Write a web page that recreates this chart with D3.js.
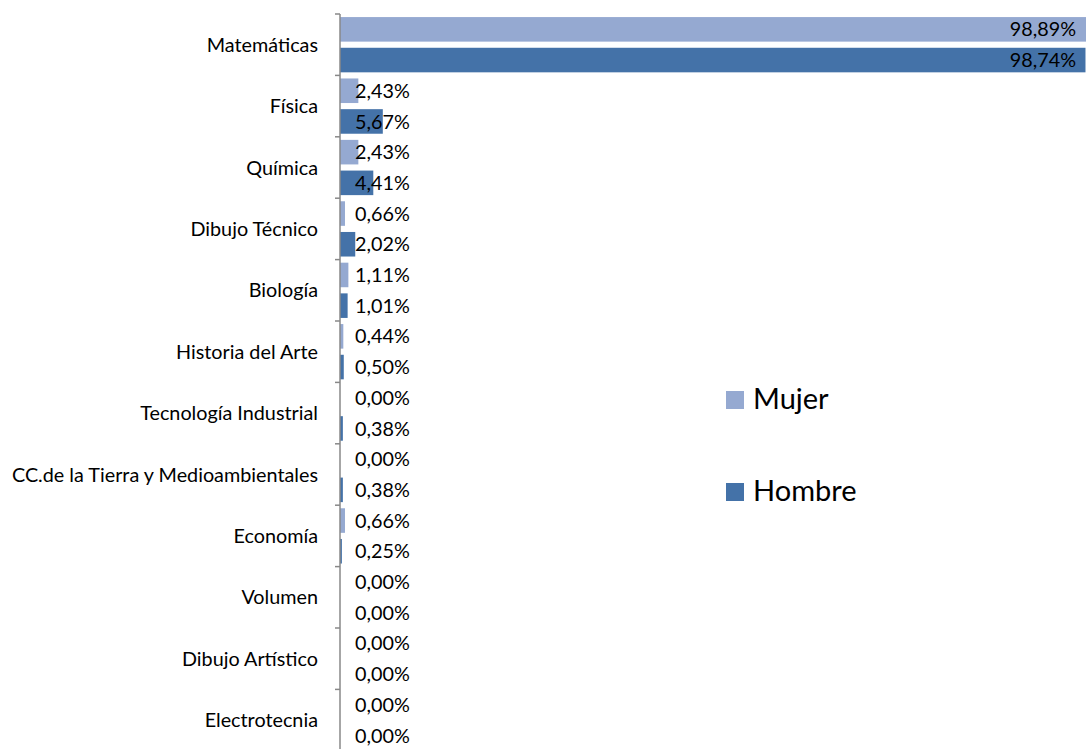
<!DOCTYPE html>
<html><head><meta charset="utf-8">
<script src="https://cdn.jsdelivr.net/npm/d3@7"></script>
<style>body{margin:0;background:#fff;}svg{display:block;font-family:Lato,"Noto Sans",sans-serif;}</style>
</head><body>
<script>
const categories = ["Matemáticas","Física","Química","Dibujo Técnico","Biología","Historia del Arte","Tecnología Industrial","CC.de la Tierra y Medioambientales","Economía","Volumen","Dibujo Artístico","Electrotecnia"];
const mujer = [98.89,2.43,2.43,0.66,1.11,0.44,0.00,0.00,0.66,0.00,0.00,0.00];
const hombre = [98.74,5.67,4.41,2.02,1.01,0.50,0.38,0.38,0.25,0.00,0.00,0.00];
const seriesNames = ["Mujer","Hombre"];
const colors = ["#95a9d1","#4472a8"];

const W=1086,H=749;
const svg=d3.select("body").append("svg").attr("width",W).attr("height",H);
const x0=340;
const x=d3.scaleLinear().domain([0,100]).range([x0,x0+755]);
const y=d3.scaleBand().domain(categories).range([14,14+12*61.4]);
const inner=d3.scaleBand().domain(seriesNames).range([0,y.bandwidth()]).paddingInner(0.2).paddingOuter(0.1);
const fmt=v=>v.toFixed(2).replace(".",",")+"%";
const fs=19.8;

const g=svg.append("g");
const data=[mujer,hombre];
categories.forEach((c,i)=>{
  seriesNames.forEach((s,j)=>{
    const v=data[j][i];
    const by=y(c)+inner(s);
    g.append("rect").attr("x",x(0)).attr("y",by).attr("width",Math.max(0,x(v)-x(0))).attr("height",inner.bandwidth()).attr("fill",colors[j]);
    const big=x(v)>W-60;
    g.append("text").attr("x",big?W-10:x(0)+15).attr("y",by+inner.bandwidth()/2).attr("dy","0.36em")
      .attr("text-anchor",big?"end":"start").attr("font-size",fs).attr("fill","#000").text(fmt(v));
  });
  g.append("text").attr("x",318).attr("y",y(c)+y.bandwidth()/2).attr("dy","0.36em").attr("text-anchor","end")
    .attr("font-size",fs).attr("fill","#000").text(c);
});
// axis
const ax=svg.append("g");
ax.append("line").attr("x1",x0).attr("x2",x0).attr("y1",14).attr("y2",H).attr("stroke","#888").attr("stroke-width",1.5);
y.domain().concat(["_end"]).forEach((c,i)=>{
  const yy=14+i*y.step();
  ax.append("line").attr("x1",x0-5).attr("x2",x0).attr("y1",yy).attr("y2",yy).attr("stroke","#888").attr("stroke-width",1.5);
});
// legend
const lg=svg.append("g");
const ly=[391,483];
seriesNames.forEach((s,j)=>{
  lg.append("rect").attr("x",726).attr("y",ly[j]).attr("width",18).attr("height",18).attr("fill",colors[j]);
  lg.append("text").attr("x",753).attr("y",ly[j]+18).attr("font-size",29).attr("fill","#000").text(s);
});
</script>
</body></html>
